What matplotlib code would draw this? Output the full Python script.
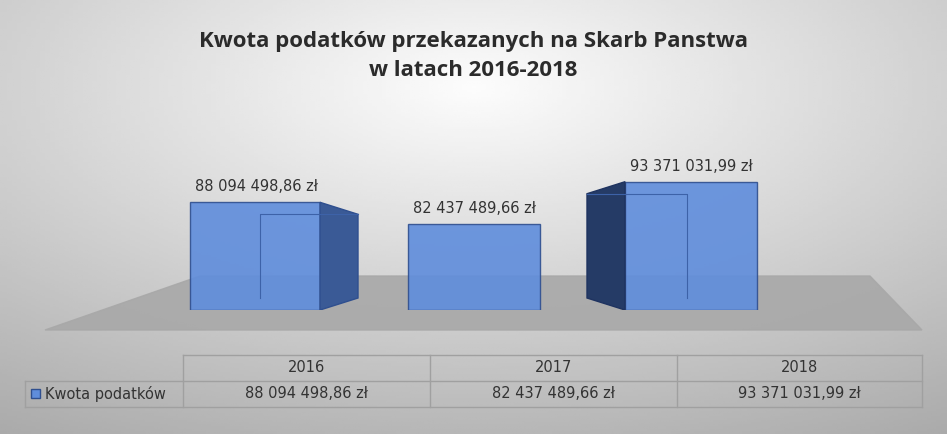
import matplotlib.pyplot as plt
import numpy as np
from matplotlib.patches import Polygon, Rectangle

years = ['2016', '2017', '2018']
values = [88094498.86, 82437489.66, 93371031.99]
labels = ['88 094 498,86 zł', '82 437 489,66 zł', '93 371 031,99 zł']
series_name = 'Kwota podatków'

W, H = 947, 434
fig = plt.figure(figsize=(W / 100, H / 100), dpi=100)

# gradient background
bg = fig.add_axes([0, 0, 1, 1])
yy, xx = np.mgrid[0:1:200j, 0:1:200j]
r = np.sqrt(((xx - 0.5) * 0.9) ** 2 + ((yy - 0.8) * 0.9) ** 2)
bg.imshow(0.99 - 0.38 * r, cmap='gray', vmin=0, vmax=1, extent=[0, 1, 0, 1],
          aspect='auto', origin='lower')
bg.set_axis_off()

fig.text(0.5, 1 - 56 / H, 'Kwota podatków przekazanych na Skarb Panstwa\nw latach 2016-2018',
         ha='center', va='center', fontsize=16, fontweight='bold', color='#2b2b2b',
         linespacing=1.45, family='Open Sans')

# floor
bg.add_patch(Polygon([(45 / W, 1 - 330 / H), (922 / W, 1 - 330 / H),
                      (870 / W, 1 - 276 / H), (200 / W, 1 - 276 / H)],
                     closed=True, color='#a8a8a8', alpha=0.9))

# bar axes (x in pixels, y in value units)
ax = fig.add_axes([0, 1 - 310 / H, 1, (310 - 120) / H])
ax.set_xlim(0, W)
base = 60.5e6
scale = 4.1e6 / 16.0  # value per pixel approx
ax.set_ylim(base, base + 190 * scale)
ax.set_axis_off()

fronts = [(190, 320), (408, 540), (625, 757)]
depth_x = [38, 0, -38]
depth_y = 12 * scale
face = '#5f8ddc'
for (x0, x1), v, dx, lab in zip(fronts, values, depth_x, labels):
    ax.add_patch(Rectangle((x0, base), x1 - x0, v - base,
                           facecolor=face, edgecolor='#2f4f8f', lw=1, alpha=0.9))
    if dx > 0:
        ax.add_patch(Polygon([(x1, base), (x1 + dx, base + depth_y), (x1 + dx, v - depth_y),
                              (x1, v)], closed=True, facecolor='#3a5a96', edgecolor='#2f4f8f'))
        # back edges
        ax.plot([x0 + 70, x0 + 70, x1 + dx], [base + depth_y, v - depth_y, v - depth_y],
                color='#3d62a8', lw=0.8)
        cx = (x0 + x1 + dx) / 2 - 18
    elif dx < 0:
        ax.add_patch(Polygon([(x0, base), (x0 + dx, base + depth_y), (x0 + dx, v - depth_y),
                              (x0, v)], closed=True, facecolor='#253b66', edgecolor='#1f3360'))
        ax.plot([x0 + dx, x1 - 70, x1 - 70], [v - depth_y, v - depth_y, base + depth_y],
                color='#3d62a8', lw=0.8)
        cx = (x0 + x1) / 2
    else:
        cx = (x0 + x1) / 2
    ax.text(cx, v + 8 * scale, lab, ha='center', va='bottom', fontsize=10.5, color='#333333')

# data table
tb = fig.add_axes([0, 0, 1, 1], facecolor='none')
tb.set_xlim(0, W)
tb.set_ylim(H, 0)
tb.set_axis_off()
cols = [183, 430, 677, 922]
lc = '#a0a0a0'
for y in (355, 381, 407):
    tb.plot([cols[0] if y == 355 else 25, cols[-1]], [y, y], color=lc, lw=1)
tb.plot([25, 25], [381, 407], color=lc, lw=1)
for x in cols:
    tb.plot([x, x], [355, 407], color=lc, lw=1)
for i in range(3):
    cx = (cols[i] + cols[i + 1]) / 2
    tb.text(cx, 368, years[i], ha='center', va='center', fontsize=10.5, color='#333333')
    tb.text(cx, 394, labels[i], ha='center', va='center', fontsize=10.5, color='#333333')
tb.add_patch(Rectangle((31, 389), 9, 9, facecolor=face, edgecolor='#2f4f8f'))
tb.text(45, 394, series_name, ha='left', va='center', fontsize=10.5, color='#333333')

fig.savefig('out.png', dpi=100)
